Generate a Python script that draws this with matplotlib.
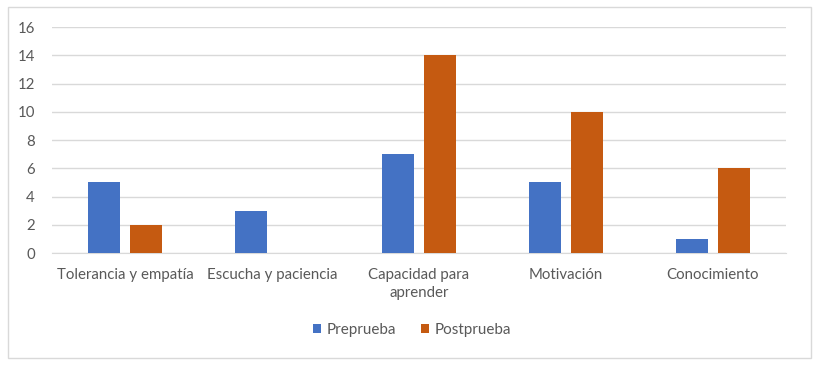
import matplotlib
matplotlib.use("Agg")
import matplotlib.pyplot as plt
import numpy as np
from matplotlib.patches import Rectangle

categories = ["Tolerancia y empatía", "Escucha y paciencia", "Capacidad para\naprender", "Motivación", "Conocimiento"]
preprueba = [5, 3, 7, 5, 1]
postprueba = [2, 0, 14, 10, 6]
series_names = ["Preprueba", "Postprueba"]
yticks = [0, 2, 4, 6, 8, 10, 12, 14, 16]

plt.rcParams['font.family'] = ['Lato', 'DejaVu Sans']

fig = plt.figure(figsize=(8.19, 3.71), dpi=100)
fig.patch.set_facecolor('white')
fig.patches.append(Rectangle((8/819, 1-358/371), 803/819, 351/371, transform=fig.transFigure,
                             fill=False, edgecolor='#D9D9D9', linewidth=1))

ax = fig.add_axes([0.063, 0.318, 0.897, 0.609])
x = np.arange(len(categories))
w = 0.22
off = 0.143
ax.bar(x - off, preprueba, w, color='#4472C4', label=series_names[0], zorder=3)
ax.bar(x + off, postprueba, w, color='#C55A11', label=series_names[1], zorder=3)

ax.set_xlim(-0.5, len(categories) - 0.5)
ax.set_ylim(0, 16)
ax.set_yticks(yticks)
ax.yaxis.grid(True, color='#D9D9D9', linewidth=1, zorder=0)
ax.set_axisbelow(True)
for s in ['top', 'right', 'left']:
    ax.spines[s].set_visible(False)
ax.spines['bottom'].set_color('#D9D9D9')
ax.tick_params(axis='both', length=0, labelsize=10.8, colors='#595959')
ax.tick_params(axis='y', pad=12)
ax.tick_params(axis='x', pad=11)
ax.set_xticks(x)
ax.set_xticklabels(categories, linespacing=1.35)

fig.legend(loc='center', bbox_to_anchor=(0.503, 1-330/371), ncol=2, frameon=False,
           fontsize=11, labelcolor='#595959', handlelength=0.55, handleheight=0.55,
           handletextpad=0.35, columnspacing=1.6)

fig.savefig('out.png', dpi=100)
